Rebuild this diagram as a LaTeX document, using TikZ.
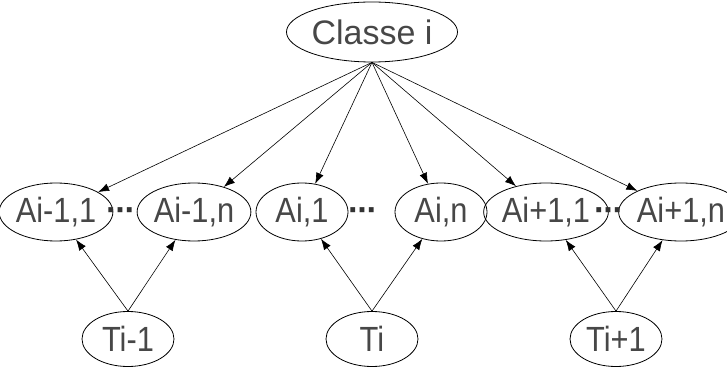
\documentclass[tikz,border=0pt]{standalone}
\usepackage{fontspec}
\setmainfont{Liberation Sans}
\newfontfamily\narrowfont[FakeStretch=0.88]{Liberation Sans}
\usetikzlibrary{shapes.geometric, arrows.meta}
\tikzset{var/.style={ellipse, draw, line width=0.8pt, inner sep=0pt, minimum width=92pt, minimum height=58pt, text=black!72, font=\narrowfont\fontsize{35}{35}\selectfont}}
\tikzset{dep/.style={-{Latex[length=11pt,width=8pt]}, line width=0.6pt}}
\tikzset{etc/.style={inner sep=0pt, text=black!80, font=\fontsize{34}{34}\selectfont\bfseries}}

\begin{document}
\begin{tikzpicture}[x=1pt, y=1pt]
            \useasboundingbox (0,0) rectangle (727,367);
            \node[var, minimum width=141pt, minimum height=60pt, font=\fontsize{34}{34}\selectfont] (C) at (372,335) {Classe i};
            \node[var] (A11) at (56,155) {Ai-1,1};
            \node[var] (A1n) at (194,155) {Ai-1,n};
            \node[var] (A21) at (302,155) {Ai,1};
            \node[var] (A2n) at (441,155) {Ai,n};
            \node[var] (A31) at (546,155) {Ai+1,1};
            \node[var] (A3n) at (681,155) {Ai+1,n};
            \node[etc] (d1) at (121,152) {·\kern-2pt·\kern-2pt·};
            \node[etc] (d2) at (363,152) {·\kern-2pt·\kern-2pt·};
            \node[etc] (d3) at (609,152) {·\kern-2pt·\kern-2pt·};
            \node[var, minimum height=55pt] (T1) at (128,28) {Ti-1};
            \node[var, minimum height=55pt] (T2) at (372,28) {Ti};
            \node[var, minimum height=55pt] (T3) at (616,28) {Ti+1};
            \draw[dep] (C.south) -- (A11);
            \draw[dep] (C.south) -- (A1n);
            \draw[dep] (C.south) -- (A21);
            \draw[dep] (C.south) -- (A2n);
            \draw[dep] (C.south) -- (A31);
            \draw[dep] (C.south) -- (A3n);
            \draw[dep] (T1.north) -- (A11);
            \draw[dep] (T1.north) -- (A1n);
            \draw[dep] (T2.north) -- (A21);
            \draw[dep] (T2.north) -- (A2n);
            \draw[dep] (T3.north) -- (A31);
            \draw[dep] (T3.north) -- (A3n);
        \end{tikzpicture}
\end{document}
